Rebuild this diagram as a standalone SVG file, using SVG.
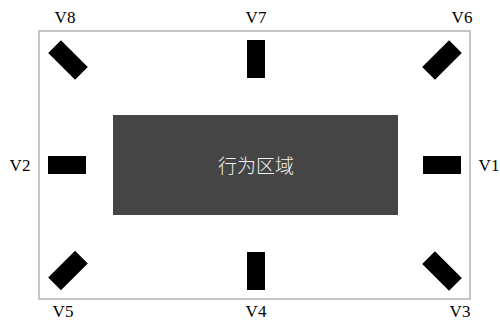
<svg xmlns="http://www.w3.org/2000/svg" width="500" height="322" viewBox="0 0 500 322">
<style>
.lbl{font-family:"Liberation Serif","Times New Roman",serif;font-size:17px;fill:#000;text-anchor:middle}
.cam{fill:#000}
</style>
<rect x="0" y="0" width="500" height="322" fill="#fff"/>
<g id="frame"><rect x="39" y="31" width="431" height="268" fill="none" stroke="#b4b4b4" stroke-width="1.5"/></g>
<g id="zone">
<rect x="113" y="115" width="285" height="100" fill="#454545"/>
<text x="256" y="173" font-family="'Noto Sans CJK SC',sans-serif" font-size="19" font-weight="300" fill="#f2f2f2" text-anchor="middle">行为区域</text>
</g>
<g id="V1"><rect class="cam" x="423" y="156" width="38" height="18"/><text class="lbl" x="489" y="171">V1</text></g>
<g id="V2"><rect class="cam" x="48" y="156" width="38" height="18"/><text class="lbl" x="20" y="171">V2</text></g>
<g id="V3"><rect class="cam" x="-19" y="-9" width="38" height="18" transform="translate(442,271) rotate(45)"/><text class="lbl" x="460" y="317">V3</text></g>
<g id="V4"><rect class="cam" x="247" y="252" width="18" height="38"/><text class="lbl" x="256" y="317">V4</text></g>
<g id="V5"><rect class="cam" x="-19" y="-9" width="38" height="18" transform="translate(68,270.5) rotate(-45)"/><text class="lbl" x="63" y="317">V5</text></g>
<g id="V6"><rect class="cam" x="-19" y="-9" width="38" height="18" transform="translate(442,60) rotate(-45)"/><text class="lbl" x="462" y="23">V6</text></g>
<g id="V7"><rect class="cam" x="247" y="40" width="18" height="38"/><text class="lbl" x="256" y="23">V7</text></g>
<g id="V8"><rect class="cam" x="-19" y="-9" width="38" height="18" transform="translate(68,60) rotate(45)"/><text class="lbl" x="65" y="23">V8</text></g>
</svg>
